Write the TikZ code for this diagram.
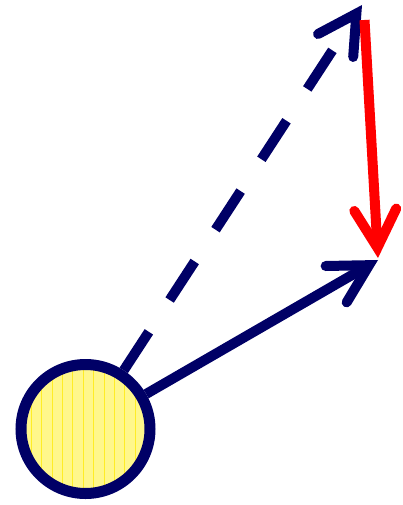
\documentclass[tikz,border=0pt]{standalone}
\usetikzlibrary{arrows.meta}
\definecolor{navy}{rgb}{0,0,0.4}
\definecolor{sunbg}{rgb}{1,0.97,0.55}
\definecolor{sunline}{rgb}{1,0.93,0.15}
\begin{document}
\begin{tikzpicture}[x=1pt,y=-1pt,
  vec/.style={line width=10pt,-{Straight Barb[length=38pt,width=42pt,line cap=round,line join=miter]}},
  sun/.style={circle,draw=navy,line width=11pt,minimum size=129pt,inner sep=0pt,fill=sunbg,
    path picture={\foreach \i in {-7,...,7}
      \draw[sunline,line width=1pt] ([xshift=\i*10.4pt-2.2pt]path picture bounding box.north) -- ([xshift=\i*10.4pt-2.2pt]path picture bounding box.south);}}]
\useasboundingbox (0,0) rectangle (403,505);
\node[sun] (s) at (85.5,429) {};
\coordinate (td) at (362,5);
\coordinate (ts) at (378,260);
\coordinate (rs) at (364.5,20);
\coordinate (re) at (378,258);
\draw[vec,navy,dash pattern=on 46pt off 38pt] (s) -- (td);
\draw[vec,navy] (s) -- (ts);
\draw[vec,red] (rs) -- (re);
\end{tikzpicture}
\end{document}
